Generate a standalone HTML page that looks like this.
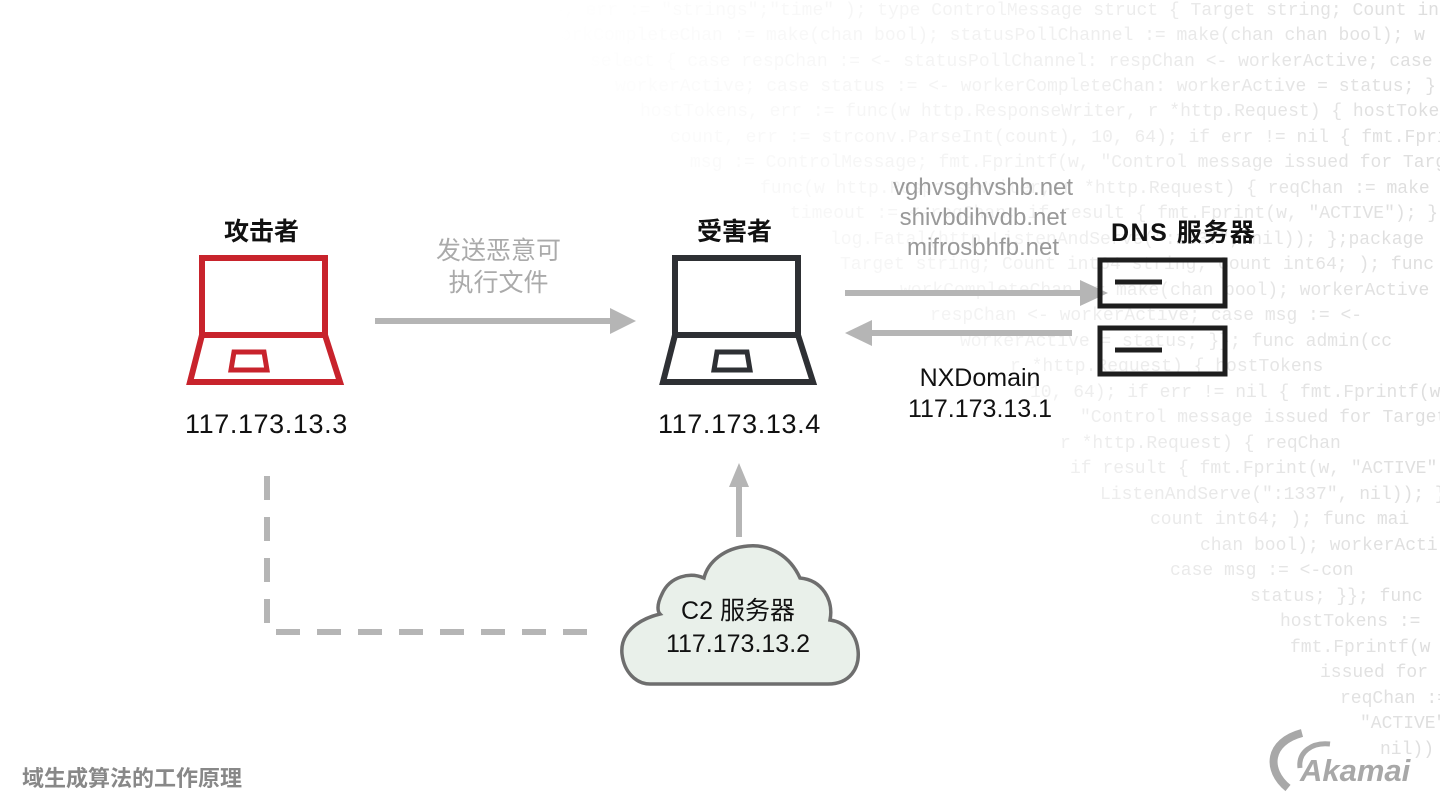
<!DOCTYPE html>
<html><head><meta charset="utf-8"><style>
html,body{margin:0;padding:0;background:#fff;}
#c{position:relative;width:1440px;height:810px;overflow:hidden;background:#fff;font-family:"Liberation Sans","Noto Sans CJK SC",sans-serif;}
.code{position:absolute;left:0;top:0;width:1440px;height:810px;font-family:"Liberation Mono",monospace;font-size:18px;color:#dadada;white-space:pre;
-webkit-mask-image:linear-gradient(90deg,rgba(0,0,0,0) 38%,rgba(0,0,0,.35) 70%,rgba(0,0,0,.9) 100%);mask-image:linear-gradient(90deg,rgba(0,0,0,0) 38%,rgba(0,0,0,.35) 70%,rgba(0,0,0,.9) 100%);}
.code div{position:absolute;}
.t{position:absolute;white-space:nowrap;}
</style></head><body><div id="c">
<div class="code">
<div style="top:1px;left:510px">ssage, err := "strings";"time" ); type ControlMessage struct { Target string; Count int64; }</div>
<div style="top:26px;left:550px">workCompleteChan := make(chan bool); statusPollChannel := make(chan chan bool); w</div>
<div style="top:52px;left:590px">select { case respChan := &lt;- statusPollChannel: respChan &lt;- workerActive; case</div>
<div style="top:77px;left:615px">workerActive; case status := &lt;- workerCompleteChan: workerActive = status; }</div>
<div style="top:102px;left:640px">hostTokens, err := func(w http.ResponseWriter, r *http.Request) { hostTokens</div>
<div style="top:128px;left:670px">count, err := strconv.ParseInt(count), 10, 64); if err != nil { fmt.Fprintf(w, err</div>
<div style="top:153px;left:690px">msg := ControlMessage; fmt.Fprintf(w, "Control message issued for Target</div>
<div style="top:179px;left:760px">func(w http.ResponseWriter, r *http.Request) { reqChan := make</div>
<div style="top:204px;left:790px">timeout := &lt;-reqChan; if result { fmt.Fprint(w, "ACTIVE"); }</div>
<div style="top:230px;left:830px">log.Fatal(http.ListenAndServe(":1337", nil)); };package</div>
<div style="top:255px;left:840px">Target string; Count int64 string; Count int64; ); func main</div>
<div style="top:281px;left:900px">workCompleteChan := make(chan bool); workerActive</div>
<div style="top:306px;left:930px">respChan &lt;- workerActive; case msg := &lt;-</div>
<div style="top:332px;left:960px">workerActive = status; }}; func admin(cc</div>
<div style="top:357px;left:1010px">r *http.Request) { hostTokens</div>
<div style="top:383px;left:1030px">10, 64); if err != nil { fmt.Fprintf(w,</div>
<div style="top:408px;left:1080px">"Control message issued for Target</div>
<div style="top:434px;left:1060px">r *http.Request) { reqChan</div>
<div style="top:459px;left:1070px">if result { fmt.Fprint(w, "ACTIVE"</div>
<div style="top:485px;left:1100px">ListenAndServe(":1337", nil)); };pac</div>
<div style="top:510px;left:1150px">count int64; ); func mai</div>
<div style="top:536px;left:1200px">chan bool); workerActi</div>
<div style="top:561px;left:1170px">case msg := &lt;-con</div>
<div style="top:587px;left:1250px">status; }}; func</div>
<div style="top:612px;left:1280px">hostTokens :=</div>
<div style="top:638px;left:1290px">fmt.Fprintf(w</div>
<div style="top:663px;left:1320px">issued for</div>
<div style="top:689px;left:1340px">reqChan :=</div>
<div style="top:714px;left:1360px">"ACTIVE"</div>
<div style="top:740px;left:1380px">nil))</div>
</div>

<svg width="1440" height="810" style="position:absolute;left:0;top:0">
 <g fill="none" stroke="#c8232c" stroke-width="6" stroke-linejoin="miter">
  <rect x="202" y="258" width="123" height="77"/>
  <path d="M202 335 L190 382 L340 382 L325 335"/>
  <path d="M234 352 L264 352 L267 370 L231 370 Z" stroke-width="5"/>
 </g>
 <g fill="none" stroke="#2e3034" stroke-width="6">
  <rect x="675" y="258" width="123" height="77"/>
  <path d="M675 335 L663 382 L813 382 L798 335"/>
  <path d="M717 352 L747 352 L750 370 L714 370 Z" stroke-width="5"/>
 </g>
 <g stroke="#b5b5b5" stroke-width="6" fill="#b5b5b5">
  <line x1="375" y1="321" x2="612" y2="321"/>
  <path d="M610 308 L636 321 L610 334 Z" stroke="none"/>
  <line x1="845" y1="293" x2="1083" y2="293"/>
  <path d="M1080 280 L1108 293 L1080 306 Z" stroke="none"/>
  <line x1="1072" y1="333" x2="870" y2="333"/>
  <path d="M872 320 L845 333 L872 346 Z" stroke="none"/>
  <line x1="739" y1="537" x2="739" y2="485"/>
  <path d="M729 487 L739 463 L749 487 Z" stroke="none"/>
 </g>
 <g stroke="#b5b5b5" stroke-width="6" fill="none">
  <line x1="267" y1="476" x2="267" y2="630" stroke-dasharray="24 17"/>
  <line x1="276" y1="632" x2="592" y2="632" stroke-dasharray="24 17"/>
 </g>
 <g fill="none" stroke="#1e1e1e" stroke-width="5">
  <rect x="1100" y="260" width="125" height="46"/>
  <rect x="1100" y="328" width="125" height="46"/>
  <line x1="1115" y1="282" x2="1162" y2="282"/>
  <line x1="1115" y1="350" x2="1162" y2="350"/>
 </g>
 <path d="M650 684 L828 684 C850 684 860 668 858 650 C856 632 844 622 830 620 C834 600 822 580 800 578 C790 556 770 544 748 546 C724 548 708 562 704 578 C690 572 670 576 662 594 C656 606 658 612 660 614 C636 620 620 634 622 654 C624 672 636 684 650 684 Z" fill="#e9f0ea" stroke="#6e6e6e" stroke-width="3.5"/>
 <g fill="none" stroke="#a8a8a8">
  <path d="M1288 788 C1266 770 1268 742 1302 733" stroke-width="8"/>
  <path d="M1300 768 C1298 752 1312 742 1330 744" stroke-width="5"/>
 </g>
</svg>

<div class="t" style="left:224px;top:212px;font-size:25px;font-weight:bold;color:#111">攻击者</div>
<div class="t" style="left:697px;top:212px;font-size:25px;font-weight:bold;color:#111">受害者</div>
<div class="t" style="left:1111px;top:213px;font-size:25px;font-weight:bold;color:#111;letter-spacing:1.5px">DNS 服务器</div>
<div class="t" style="left:436px;top:235px;font-size:25px;color:#aaa;line-height:32px;text-align:center">发送恶意可<br>执行文件</div>
<div class="t" style="left:185px;top:409px;font-size:27px;color:#111;letter-spacing:0.6px">117.173.13.3</div>
<div class="t" style="left:658px;top:409px;font-size:27px;color:#111;letter-spacing:0.6px">117.173.13.4</div>
<div class="t" style="left:868px;top:173px;width:230px;text-align:center;font-size:24px;color:#999;line-height:30px">vghvsghvshb.net<br>shivbdihvdb.net<br>mifrosbhfb.net</div>
<div class="t" style="left:880px;top:363px;width:200px;text-align:center;font-size:25px;color:#111;line-height:31px">NXDomain<br>117.173.13.1</div>
<div class="t" style="left:640px;top:595px;width:196px;text-align:center;font-size:25px;color:#111;line-height:33px">C2 服务器<br>117.173.13.2</div>
<div class="t" style="left:22px;top:761px;font-size:22px;font-weight:bold;color:#888">域生成算法的工作原理</div>
<div class="t" style="left:1300px;top:753px;font-size:31px;font-weight:bold;font-style:italic;color:#a8a8a8">Akamai</div>
</div></body></html>
